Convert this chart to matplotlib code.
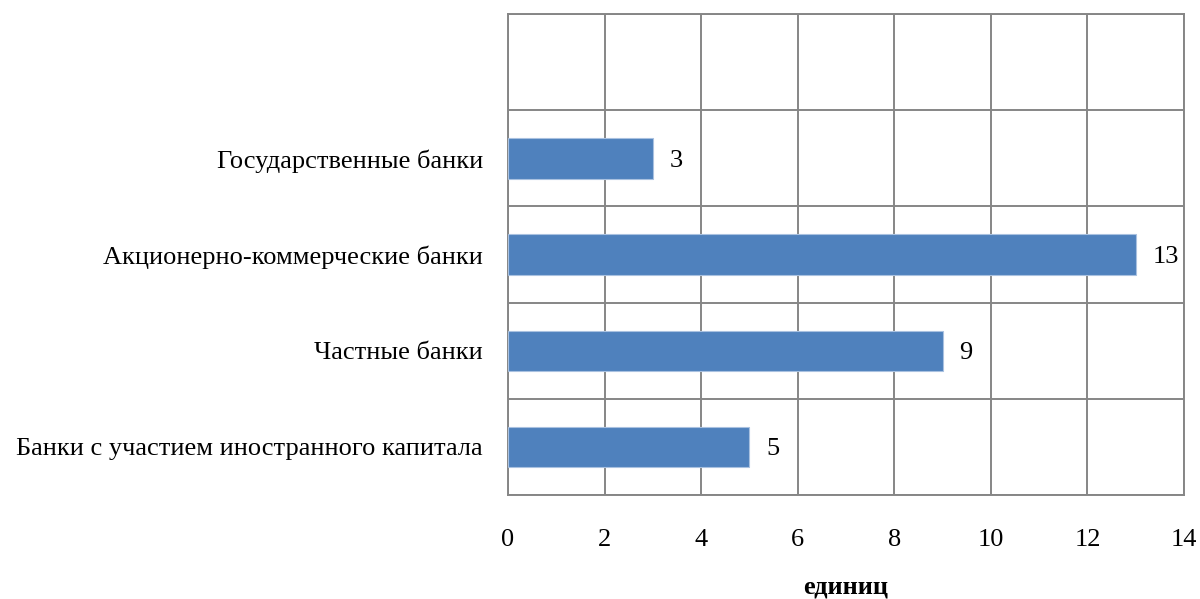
import numpy as np
import matplotlib.pyplot as plt
from matplotlib.ticker import MultipleLocator

# data, bottom to top
categories = ['Банки с участием иностранного капитала', 'Частные банки',
              'Акционерно-коммерческие банки', 'Государственные банки']
values = [5, 9, 13, 3]
xticks = [0, 2, 4, 6, 8, 10, 12, 14]

plt.rcParams['font.family'] = ['Liberation Serif', 'DejaVu Serif']

fig = plt.figure(figsize=(12, 5.99), dpi=100)
ax = fig.add_axes([0.4233, 0.1736, 0.5634, 0.803])

grid_c = '#868686'
fs = 19
ypos = np.arange(len(categories))
bars = ax.barh(ypos, values, height=0.42, color='#4F81BD', edgecolor='#A9C1E0',
               linewidth=0.8, zorder=3)
labels = ax.bar_label(bars, labels=[str(v) for v in values], padding=12, fontsize=fs)
for t in labels:
    t.set_va('center_baseline')

ax.set_xlim(0, 14)
ax.set_ylim(-0.5, 4.5)
ax.set_xticks(xticks)
ax.set_xticklabels([str(t) for t in xticks], fontsize=fs)
ax.set_yticks(ypos)
ax.set_yticklabels(categories, fontsize=fs, va='center_baseline')
ax.yaxis.set_minor_locator(MultipleLocator(1, offset=0.5))
ax.tick_params(axis='both', which='both', length=0)
ax.tick_params(axis='x', pad=24.5)
ax.tick_params(axis='y', pad=18)

ax.grid(True, axis='x', which='major', color=grid_c, linewidth=1.4, zorder=0)
ax.grid(True, axis='y', which='minor', color=grid_c, linewidth=1.4, zorder=0)
for s in ax.spines.values():
    s.set_color(grid_c)
    s.set_linewidth(1.4)

ax.set_xlabel('единиц', fontsize=fs, fontweight='bold', labelpad=17.5)

fig.savefig('out.png', dpi=100)
